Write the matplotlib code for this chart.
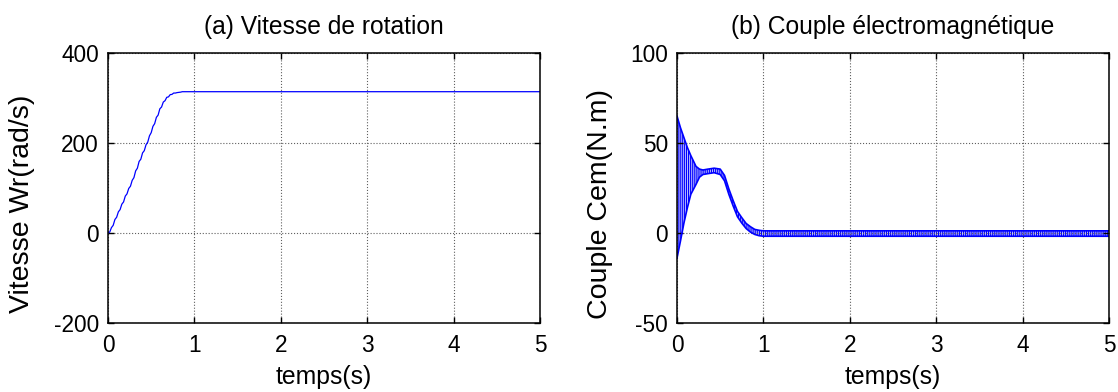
import matplotlib
matplotlib.use("Agg")
import matplotlib.pyplot as plt

# ---- data ----
speed_t = [0.00, 0.02, 0.04, 0.06, 0.08, 0.10, 0.12, 0.14, 0.16, 0.18, 0.20,
           0.22, 0.24, 0.26, 0.28, 0.30, 0.32, 0.34, 0.36, 0.38, 0.40, 0.42,
           0.44, 0.46, 0.48, 0.50, 0.52, 0.54, 0.56, 0.58, 0.60, 0.62, 0.64,
           0.66, 0.68, 0.70, 0.72, 0.74, 0.76, 0.78, 0.80, 0.82, 0.84, 0.86, 5.00]
speed_w = [0, 2, 12, 17, 30, 35, 47, 52, 64, 69, 82,
           87, 99, 104, 117, 123, 138, 144, 159, 164, 178, 183,
           196, 202, 216, 223, 237, 243, 257, 262, 276, 280, 291,
           294, 301.5, 302.5, 307.5, 308, 311, 311, 312, 312.5, 313, 314, 314]

torque_t = [0.00, 0.04, 0.08, 0.12, 0.16, 0.22, 0.26, 0.30, 0.36, 0.43, 0.50,
            0.55, 0.60, 0.65, 0.70, 0.75, 0.80, 0.85, 0.90, 0.95, 1.00, 5.00]
torque_hi = [65, 58.5, 53, 47.5, 43, 37, 35.5, 35, 35.5, 36, 35.5,
             32, 24.5, 18, 12, 8.5, 5.3, 3.5, 2, 1.5, 1.2, 1.2]
torque_lo = [-14, -4.5, 5.5, 14, 21.5, 27, 31, 32.5, 33, 33.5, 32.5,
             29, 21.5, 15, 9, 5.5, 2.5, 0.5, -0.8, -1.5, -1.8, -1.8]

x_ticks = [0, 1, 2, 3, 4, 5]
speed_yticks = [-200, 0, 200, 400]
torque_yticks = [-50, 0, 50, 100]

titles = ["(a) Vitesse de rotation", "(b) Couple électromagnétique"]
ylabels = ["Vitesse Wr(rad/s)", "Couple Cem(N.m)"]
xlabel = "temps(s)"

# ---- style ----
plt.rcParams['font.family'] = ['Liberation Sans', 'DejaVu Sans']
plt.rcParams['axes.unicode_minus'] = False
plt.rcParams['hatch.linewidth'] = 0.8
BLUE = '#0000FF'
W, H = 1118, 392
fig = plt.figure(figsize=(W / 100, H / 100), dpi=100)

ax_w = 432 / W
ax_h = 270 / H
bottom = 1 - 323 / H
ax1 = fig.add_axes([108 / W, bottom, ax_w, ax_h])
ax2 = fig.add_axes([677 / W, bottom, ax_w, ax_h])

ax1.plot(speed_t, speed_w, color=BLUE, lw=0.9)
ax2.fill_between(torque_t, torque_lo, torque_hi, facecolor='#4a4aff',
                 alpha=0.35, lw=0)
ax2.fill_between(torque_t, torque_lo, torque_hi, facecolor='none',
                 edgecolor=BLUE, hatch='|' * 8, lw=0)
ax2.plot(torque_t, torque_hi, color=BLUE, lw=1.2)
ax2.plot(torque_t, torque_lo, color=BLUE, lw=1.2)

for ax, yt, ylim, title, yl, ylx in [
        (ax1, speed_yticks, (-200, 400), titles[0], ylabels[0], -0.168),
        (ax2, torque_yticks, (-50, 100), titles[1], ylabels[1], -0.147)]:
    ax.set_xlim(0, 5)
    ax.set_ylim(*ylim)
    ax.set_xticks(x_ticks)
    ax.set_yticks(yt)
    ax.tick_params(direction='in', length=4, width=1.0, top=True, right=True,
                   labelsize=16.3, colors='black')
    ax.tick_params(axis='x', pad=8)
    ax.tick_params(axis='y', pad=6.5)
    for s in ax.spines.values():
        s.set_linewidth(1.1)
        s.set_color('black')
    ax.grid(True, color='#606060', linestyle=':', linewidth=0.8)
    ax.set_title(title, fontsize=17.7, pad=14)
    ax.set_xlabel(xlabel, fontsize=17.8)
    ax.xaxis.set_label_coords(0.5, -0.157)
    ax.set_ylabel(yl, fontsize=20.5)
    ax.yaxis.set_label_coords(ylx, 0.442)

fig.savefig("out.png", dpi=100)
